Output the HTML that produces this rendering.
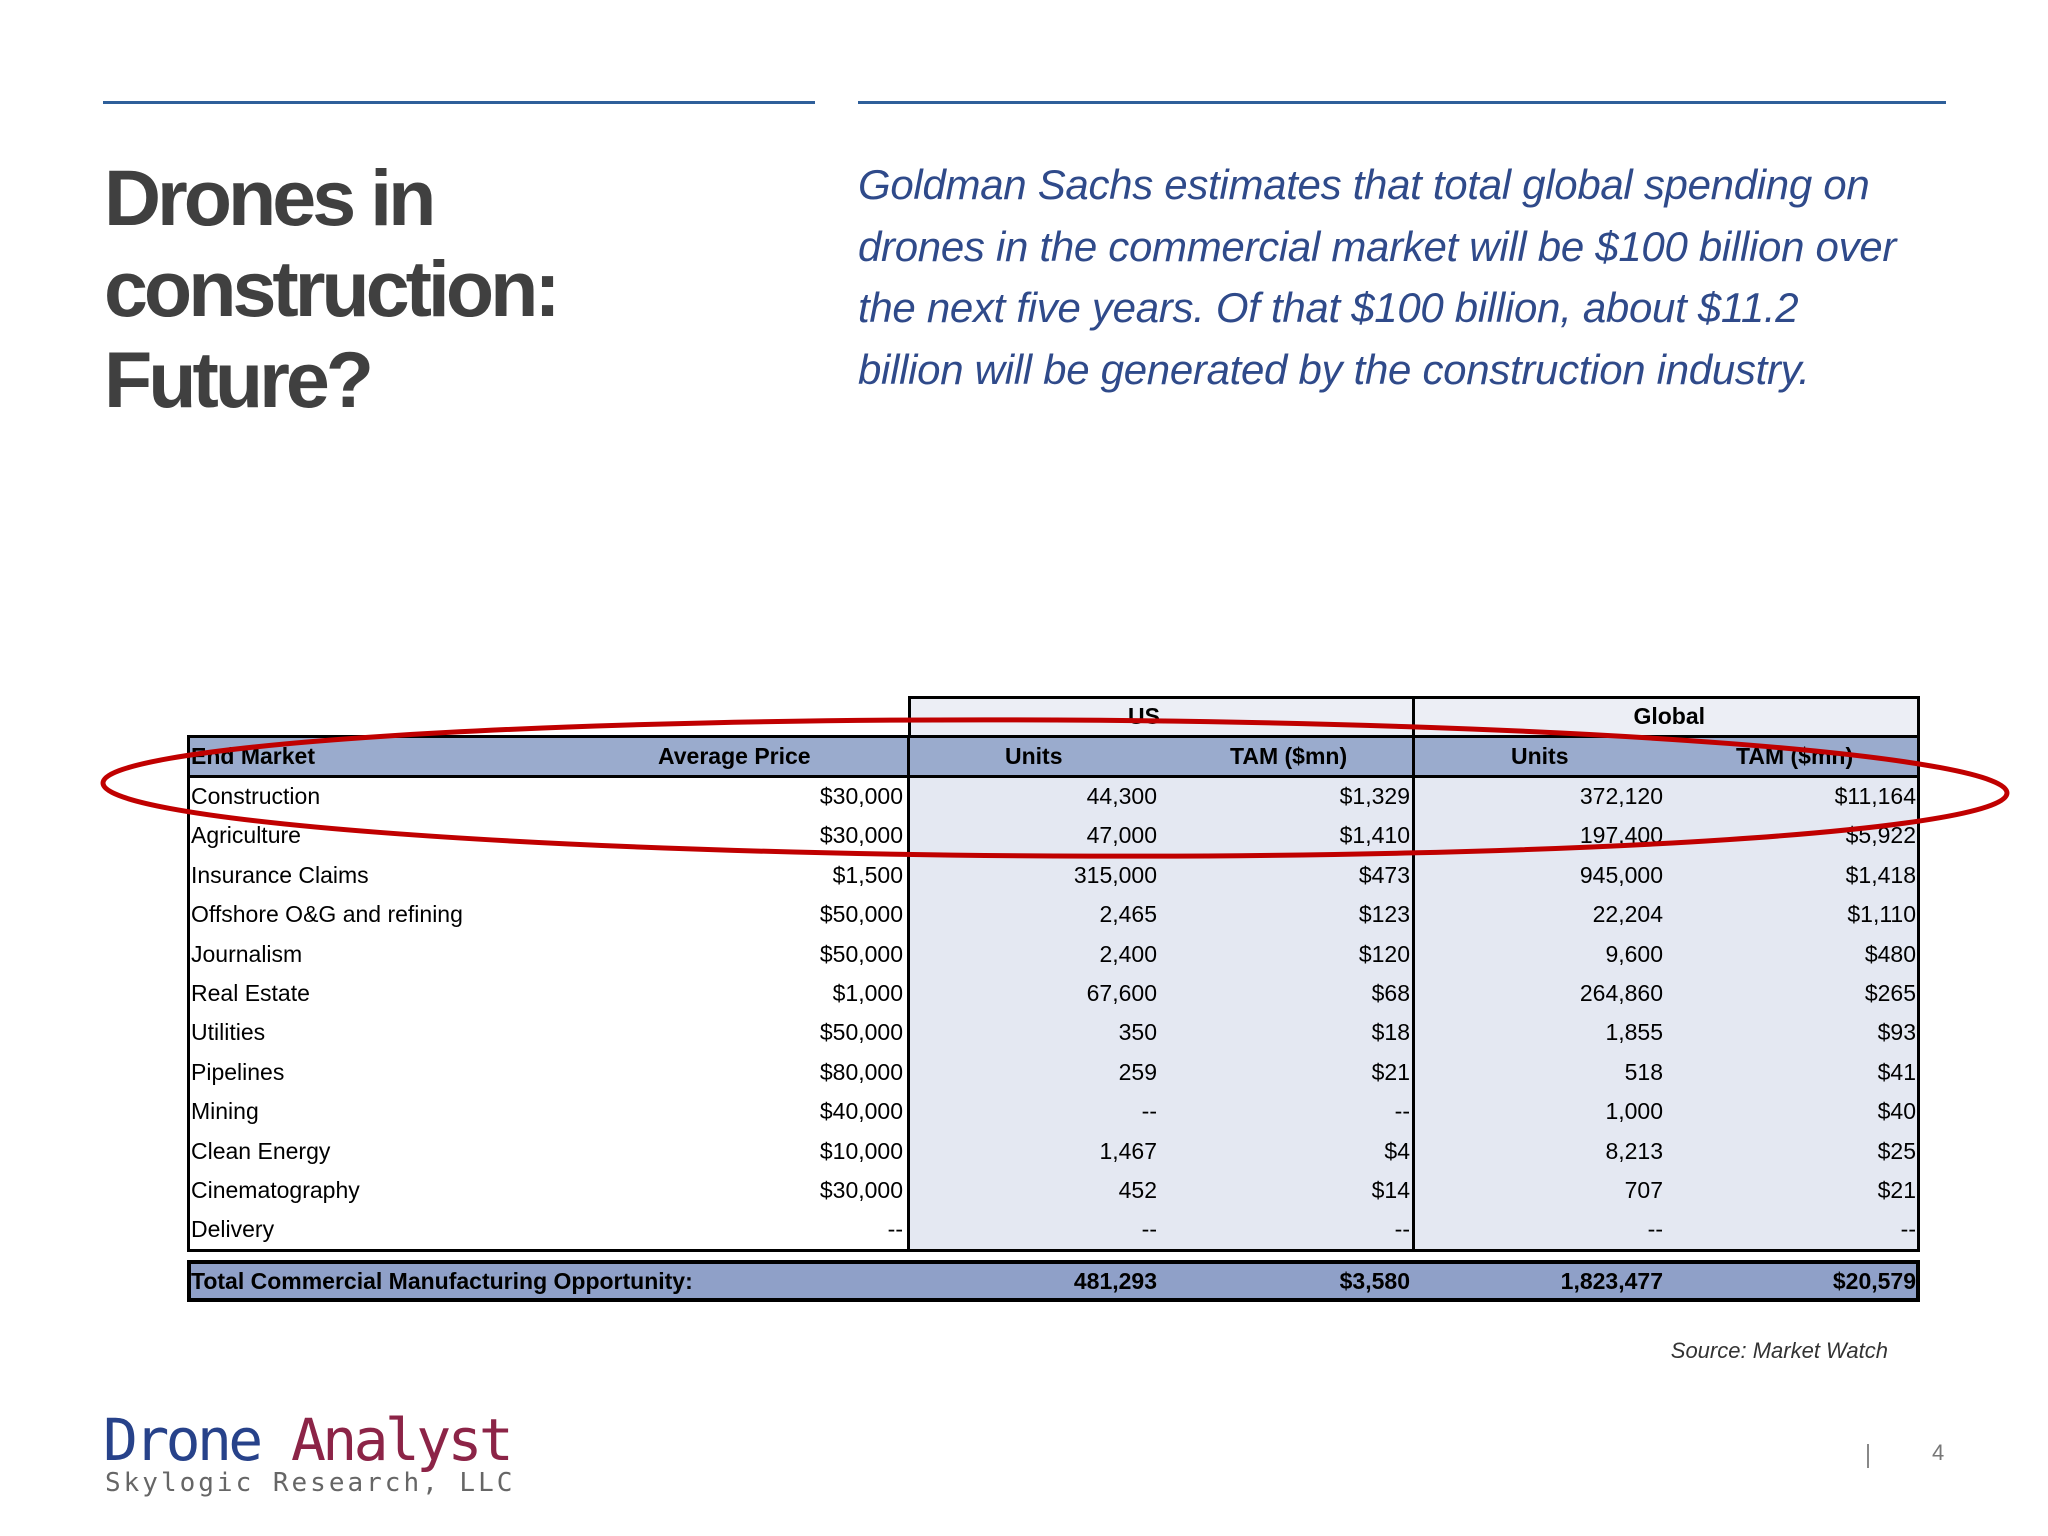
<!DOCTYPE html>
<html><head><meta charset="utf-8">
<style>
*{margin:0;padding:0;box-sizing:border-box}
body{width:2048px;height:1536px;background:#fff;position:relative;overflow:hidden;font-family:"Liberation Sans",Arial,sans-serif}
.abs{position:absolute}
.title{left:104px;top:152px;font-size:79px;font-weight:bold;color:#404040;line-height:91px;letter-spacing:-4px}
.quote{left:858px;top:154px;font-size:42px;font-style:italic;color:#2f4a8a;line-height:61.5px;width:1200px;letter-spacing:-0.3px;white-space:nowrap}
.cell{position:absolute;font-size:23px;color:#000;line-height:39px;white-space:nowrap}
.r{text-align:right}
.b{font-weight:bold}
</style></head><body>
<div class="abs" style="left:103px;top:101px;width:712px;height:3px;background:#2e5f9a"></div>
<div class="abs" style="left:858px;top:101px;width:1088px;height:3px;background:#2e5f9a"></div>
<div class="abs title">Drones in<br>construction:<br>Future?</div>
<div class="abs quote">Goldman Sachs estimates that total global spending on<br>drones in the commercial market will be $100 billion over<br>the next five years. Of that $100 billion, about $11.2<br>billion will be generated by the construction industry.</div>

<div id="table" class="abs" style="left:0;top:0;width:2048px;height:1536px"></div>

<svg class="abs" style="left:0;top:0" width="2048" height="1536">
<ellipse cx="1055" cy="788" rx="952" ry="68" fill="none" stroke="#c00000" stroke-width="5" transform="rotate(0.3 1055 788)"/>
</svg>

<div class="abs" style="right:160px;top:1338px;font-size:22px;font-style:italic;color:#333">Source: Market Watch</div>
<div class="abs" style="left:1867px;top:1444px;width:2px;height:24px;background:#888"></div>
<div class="abs" style="left:1932px;top:1440px;font-size:22px;color:#777">4</div>

<div class="abs" style="left:103px;top:1408px;font-family:'DejaVu Sans Mono',monospace;font-size:58px;letter-spacing:-3.6px;line-height:64px"><span style="color:#27428a">Drone</span> <span style="color:#8c2447">Analyst</span></div>
<div class="abs" style="left:105px;top:1468px;font-family:'DejaVu Sans Mono',monospace;font-size:26px;letter-spacing:3px;color:#666">Skylogic Research, LLC</div>

<script>
const markets=["Construction","Agriculture","Insurance Claims","Offshore O&G and refining","Journalism","Real Estate","Utilities","Pipelines","Mining","Clean Energy","Cinematography","Delivery"];
const avgPrice=["$30,000","$30,000","$1,500","$50,000","$50,000","$1,000","$50,000","$80,000","$40,000","$10,000","$30,000","--"];
const usUnits=["44,300","47,000","315,000","2,465","2,400","67,600","350","259","--","1,467","452","--"];
const usTam=["$1,329","$1,410","$473","$123","$120","$68","$18","$21","--","$4","$14","--"];
const glUnits=["372,120","197,400","945,000","22,204","9,600","264,860","1,855","518","1,000","8,213","707","--"];
const glTam=["$11,164","$5,922","$1,418","$1,110","$480","$265","$93","$41","$40","$25","$21","--"];
const totals=["481,293","$3,580","1,823,477","$20,579"];
const T=document.getElementById('table');
function box(x,y,w,h,style,name){const d=document.createElement('div');d.className='abs';d.style.cssText=`left:${x}px;top:${y}px;width:${w}px;height:${h}px;${style}`;


T.appendChild(d);return d;}
function txt(x,y,s,cls,name,right){const d=document.createElement('div');d.className='cell '+cls;d.textContent=s;
if(right){d.style.right=(2048-x)+'px';}else d.style.left=x+'px';d.style.top=y+'px';


T.appendChild(d);return d;}
const L=187,R=1920,X1=908,X2=1413,top0=696,hTop=735,bTop=777,rowH=39.4;
const bodyBot=bTop+rowH*markets.length;
box(X1,top0,R-X1,hTop-top0,'background:#eceef5','group-header-bg');
box(L,hTop,R-L,bTop-hTop,'background:#9aabcd','column-header-bg');
box(X1,bTop,R-X1,bodyBot-bTop,'background:#e4e8f2','numeric-body-bg');
box(L,1260,R-L,42,'background:#8fa0c8;border:4px solid #000','total-row');
box(X1,top0,R-X1,hTop-top0+2,'border:3px solid #000;border-bottom:none','group-header-border');
box(X2-1,top0,3,bodyBot-top0,'background:#000','global-divider');
box(L,hTop,R-L,bodyBot-hTop+2,'border:3px solid #000','table-border');
box(L,bTop-2,R-L,3,'background:#000','header-rule');
box(X1-1,hTop,3,bodyBot-hTop,'background:#000','us-divider');
txt(1160,top0+1,'US','b r','us-group-header',true);
txt(1705,top0+1,'Global','b r','global-group-header',true);
txt(191,hTop+2,'End Market','b','header-end-market');
txt(658,hTop+2,'Average Price','b','header-average-price');
txt(1005,hTop+2,'Units','b','header-us-units');
txt(1230,hTop+2,'TAM ($mn)','b','header-us-tam');
txt(1511,hTop+2,'Units','b','header-global-units');
txt(1736,hTop+2,'TAM ($mn)','b','header-global-tam');
markets.forEach((m,i)=>{const y=bTop+rowH*i;
 txt(191,y,m,'','row-market-'+i);
 txt(903,y,avgPrice[i],'r','row-price-'+i,true);
 txt(1157,y,usUnits[i],'r','row-us-units-'+i,true);
 txt(1410,y,usTam[i],'r','row-us-tam-'+i,true);
 txt(1663,y,glUnits[i],'r','row-global-units-'+i,true);
 txt(1916,y,glTam[i],'r','row-global-tam-'+i,true);
});
txt(191,1262,'Total Commercial Manufacturing Opportunity:','b','total-label');
txt(1157,1262,totals[0],'b r','total-us-units',true);
txt(1410,1262,totals[1],'b r','total-us-tam',true);
txt(1663,1262,totals[2],'b r','total-global-units',true);
txt(1916,1262,totals[3],'b r','total-global-tam',true);
</script>
</body></html>
